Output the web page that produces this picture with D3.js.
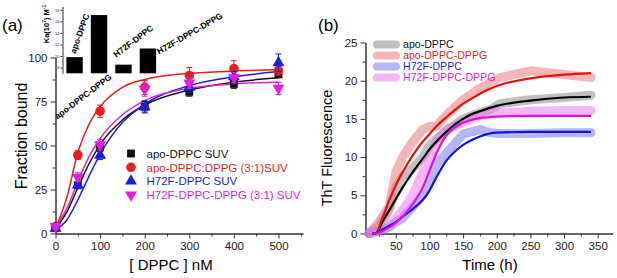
<!DOCTYPE html>
<html>
<head>
<meta charset="utf-8">
<script src="https://cdn.jsdelivr.net/npm/d3@7"></script>
<style>
  body { margin: 0; background: #fff; }
  svg { display: block; font-family: "Liberation Sans", Arial, sans-serif; }
  .axis path, .axis line { stroke: #333; }
  .axis text { fill: #222; }
</style>
</head>
<body>
<div id="chart"></div>
<script>
// ---- panel (a): binding data ----
const concA = [0, 50, 100, 200, 300, 400, 500];
const apoDPPC = [3, 27.5, 49, 72, 80.5, 85, 90.5];
const apoDPPCerr = [1.5, 2, 2.5, 3, 2.5, 2.5, 2];
const apoDPPG = [4, 44.5, 69.5, 83, 89.8, 93.7, 92.5];
const apoDPPGerr = [1.5, 2.5, 3.5, 4, 4.5, 4.5, 2.5];
const h72fDPPC = [3, 27.5, 44.5, 72, 83, 89, 97];
const h72fDPPCerr = [1.5, 2, 2.5, 3.5, 3, 3, 5];
const h72fDPPG = [4, 32, 50.5, 82, 85.5, 88.5, 82.5];
const h72fDPPGerr = [1.5, 2.5, 3, 4, 3, 3, 3.5];

const fitConc = [0, 25, 50, 75, 100, 150, 200, 300, 400, 500];
const fitApoDPPC = [3, 12, 26, 39.5, 50.5, 64.5, 73, 81.5, 86, 88.5];
const fitApoDPPG = [3, 20, 46, 62, 72, 83, 87.5, 91, 92.3, 93];
const fitH72fDPPC = [2, 7.5, 19, 32.5, 45, 63, 73.5, 84, 89, 92];
const fitH72fDPPG = [4, 14, 29.5, 43.5, 54, 67.5, 75.5, 82.5, 85, 86];

// inset: association constants
const kaLabels = ["apo-DPPC", "apo-DPPC-DPPG", "H72F-DPPC", "H72F-DPPC-DPPG"];
const kaValues = [9.8, 17.1, 8.5, 11.3];
const kaTicks = [8, 10, 12, 14, 16, 18];

// ---- panel (b): ThT kinetics ----
const bandTime = [10, 25, 40, 50, 60, 75, 90, 100, 110, 125, 150, 175, 190, 205, 250, 300, 340];
const thtApoDPPC = [0, 1, 3, 6, 7.5, 8.5, 10, 11.5, 12.3, 13.5, 15, 15.8, 16.2, 17, 17.5, 17.8, 18.1];
const thtApoDPPG = [0, 1.5, 3.5, 8, 10, 12, 13.6, 14, 14, 15.5, 17.5, 19, 19.8, 20.4, 21.3, 20.8, 20.4];
const thtH72fDPPC = [0, 0.3, 0.8, 1.5, 2, 3.5, 5, 7, 9, 10.5, 13, 13.6, 13.2, 13.1, 13.1, 13.2, 13.2];
const thtH72fDPPG = [0, 0.4, 1, 2, 3, 5, 8, 10, 12, 13.5, 14.6, 15.4, 15.7, 15.8, 16, 16.1, 16.1];

const fitTime = [15, 20, 30, 40, 50, 60, 75, 90, 100, 110, 125, 140, 150, 160, 175, 200, 250, 300, 340];
const thtFitApoDPPC = [0, 0, 1.5, 3, 4.5, 6, 8, 9.8, 11, 12, 13.3, 14.4, 15, 15.5, 16, 16.7, 17.4, 17.8, 17.9];
const thtFitApoDPPG = [0, 0, 2, 4.3, 6.3, 8, 10.2, 12, 13, 14, 15.2, 16.3, 17, 17.5, 18.3, 19.3, 20.3, 20.8, 21];
const thtFitH72fDPPC = [0, 0, 0.5, 1, 1.5, 2.2, 3.2, 4.4, 5.6, 7.3, 9.5, 10.9, 11.6, 12.1, 12.7, 13.2, 13.3, 13.3, 13.3];
const thtFitH72fDPPG = [0, 0, 0.3, 0.8, 1.4, 2.2, 3.8, 6, 8.2, 10.4, 12.8, 14, 14.5, 14.8, 15.1, 15.3, 15.4, 15.4, 15.4];

const W = 617, H = 278;
const colors = { black: "#111", red: "#e61e1e", blue: "#1e1ed6", magenta: "#e020e0" };

const svg = d3.select("#chart").append("svg")
    .attr("width", W).attr("height", H);
svg.append("rect").attr("width", W).attr("height", H).attr("fill", "#fff");

// ================= panel (a) =================
const xA = d3.scaleLinear().domain([0, 555]).range([55.5, 303]);
const yA = d3.scaleLinear().domain([0, 100]).range([233.5, 57.5]);

svg.append("g").attr("class", "axis")
    .attr("transform", `translate(0,${yA(0)})`)
    .call(d3.axisBottom(xA).tickValues(d3.range(0, 501, 100)).tickSize(5).tickSizeOuter(0).tickPadding(3))
    .style("font-size", "11.5px");
svg.append("g").attr("class", "axis")
    .attr("transform", `translate(0,${yA(0)})`)
    .call(d3.axisBottom(xA).tickValues(d3.range(50, 551, 100)).tickSize(3).tickFormat("").tickSizeOuter(0));
svg.append("g").attr("class", "axis")
    .attr("transform", `translate(${xA(0)},0)`)
    .call(d3.axisLeft(yA).tickValues(d3.range(0, 101, 25)).tickSize(5).tickSizeOuter(0).tickPadding(3))
    .style("font-size", "11.5px");
svg.append("g").attr("class", "axis")
    .attr("transform", `translate(${xA(0)},0)`)
    .call(d3.axisLeft(yA).tickValues([12.5, 37.5, 62.5, 87.5]).tickSize(3).tickFormat("").tickSizeOuter(0));

svg.append("text").attr("x", 2).attr("y", 31).attr("font-size", 17).text("(a)");
svg.append("text")
    .attr("transform", `translate(27,${136}) rotate(-90)`)
    .attr("text-anchor", "middle").attr("font-size", 16).text("Fraction bound");
svg.append("text").attr("x", 171).attr("y", 270)
    .attr("text-anchor", "middle").attr("font-size", 15).text("[ DPPC ] nM");

const seriesA = [
    { name: "apo-DPPC SUV", y: apoDPPC, e: apoDPPCerr, fit: fitApoDPPC, color: colors.black, sym: d3.symbolSquare, rot: 0, size: 62 },
    { name: "apo-DPPC:DPPG (3:1)SUV", y: apoDPPG, e: apoDPPGerr, fit: fitApoDPPG, color: colors.red, sym: d3.symbolCircle, rot: 0, size: 72 },
    { name: "H72F-DPPC SUV", y: h72fDPPC, e: h72fDPPCerr, fit: fitH72fDPPC, color: colors.blue, sym: d3.symbolTriangle, rot: 0, size: 62 },
    { name: "H72F-DPPC-DPPG (3:1) SUV", y: h72fDPPG, e: h72fDPPGerr, fit: fitH72fDPPG, color: colors.magenta, sym: d3.symbolTriangle, rot: 180, size: 62 }
];

const lineA = d3.line().curve(d3.curveMonotoneX);
seriesA.forEach(s => {
    svg.append("path")
        .attr("d", lineA(fitConc.map((c, i) => [xA(c), yA(s.fit[i])])))
        .attr("fill", "none").attr("stroke", s.color).attr("stroke-width", 1.5);
});

seriesA.forEach(s => {
    const g = svg.append("g");
    concA.forEach((c, i) => {
        const cx = xA(c), y0 = yA(s.y[i] - s.e[i]), y1 = yA(s.y[i] + s.e[i]);
        g.append("line").attr("x1", cx).attr("x2", cx).attr("y1", y0).attr("y2", y1)
            .attr("stroke", s.color).attr("stroke-width", 1);
        [y0, y1].forEach(yy => g.append("line").attr("x1", cx - 3).attr("x2", cx + 3)
            .attr("y1", yy).attr("y2", yy).attr("stroke", s.color).attr("stroke-width", 1));
        g.append("path")
            .attr("d", d3.symbol(s.sym, s.size)())
            .attr("transform", `translate(${cx},${yA(s.y[i])}) rotate(${s.rot})`)
            .attr("fill", s.color);
    });
});

// legend (a)
seriesA.forEach((s, i) => {
    const ly = 153.5 + i * 13.8;
    svg.append("path")
        .attr("d", d3.symbol(s.sym, s.size)())
        .attr("transform", `translate(131,${ly}) rotate(${s.rot})`)
        .attr("fill", s.color);
    svg.append("text").attr("x", 146.5).attr("y", ly + 4.2)
        .attr("font-size", 11.5).attr("fill", s.color)
        .text(s.name);
});

// inset bar chart
const xK = d3.scaleBand().domain(kaLabels).range([61.5, 161]).paddingInner(0.33).paddingOuter(0.2);
const yK = d3.scaleLinear().domain([7, 18.6]).range([73.3, 6.4]);
svg.append("rect").attr("x", 60).attr("y", 4).attr("width", 105).attr("height", 70).attr("fill", "#fff");
svg.selectAll(".kbar").data(kaValues).enter().append("rect")
    .attr("class", "kbar")
    .attr("x", (d, i) => xK(kaLabels[i]))
    .attr("y", d => yK(d))
    .attr("width", xK.bandwidth())
    .attr("height", d => yK(7) - yK(d))
    .attr("fill", "#000");
svg.append("g").attr("class", "axis")
    .attr("transform", `translate(${xK.range()[0] + 1},0)`)
    .call(d3.axisLeft(yK).tickValues(kaTicks).tickSize(2).tickSizeOuter(0).tickPadding(1))
    .style("font-size", "4px");
svg.append("text")
    .attr("transform", "translate(49,24) rotate(-90)")
    .attr("text-anchor", "middle").attr("font-size", 7.5).attr("font-weight", "bold")
    .html("Ka(10<tspan dy='-3' font-size='5'>7</tspan><tspan dy='3'>) M</tspan><tspan dy='-3' font-size='5'>-1</tspan>");

const kLab = svg.append("g").attr("font-size", 8.5).attr("font-weight", "bold");
const bx = i => xK(kaLabels[i]);
kLab.append("text").attr("transform", `translate(${bx(0) + 9},${yK(kaValues[0]) - 3}) rotate(-70)`).text(kaLabels[0]);
kLab.append("text").attr("text-anchor", "end")
    .attr("transform", `translate(${bx(1) + xK.bandwidth() + 5},${yK(7) + 5}) rotate(-37)`).text(kaLabels[1]);
kLab.append("text").attr("transform", `translate(${bx(2) + 1},${yK(kaValues[2]) - 7}) rotate(-37)`).text(kaLabels[2]);
kLab.append("text").attr("transform", `translate(${bx(3) + xK.bandwidth() + 3},${yK(kaValues[3]) + 6}) rotate(-30)`).text(kaLabels[3]);

// ================= panel (b) =================
const xB = d3.scaleLinear().domain([5, 372]).range([365.5, 612.5]);
const yB = d3.scaleLinear().domain([0, 25]).range([233.5, 42.5]);

svg.append("g").attr("class", "axis")
    .attr("transform", `translate(0,${yB(0)})`)
    .call(d3.axisBottom(xB).tickValues(d3.range(50, 351, 50)).tickSize(5).tickSizeOuter(0).tickPadding(3))
    .style("font-size", "11.5px");
svg.append("g").attr("class", "axis")
    .attr("transform", `translate(0,${yB(0)})`)
    .call(d3.axisBottom(xB).tickValues(d3.range(25, 351, 50)).tickSize(3).tickFormat("").tickSizeOuter(0));
svg.append("g").attr("class", "axis")
    .attr("transform", `translate(${xB(5)},0)`)
    .call(d3.axisLeft(yB).tickValues(d3.range(0, 26, 5)).tickSize(5).tickSizeOuter(0).tickPadding(3))
    .style("font-size", "11.5px");
svg.append("g").attr("class", "axis")
    .attr("transform", `translate(${xB(5)},0)`)
    .call(d3.axisLeft(yB).tickValues(d3.range(2.5, 25, 5)).tickSize(3).tickFormat("").tickSizeOuter(0));

svg.append("text").attr("x", 318).attr("y", 31).attr("font-size", 17).text("(b)");
svg.append("text")
    .attr("transform", `translate(332,148) rotate(-90)`)
    .attr("text-anchor", "middle").attr("font-size", 14.5).text("ThT Fluorescence");
svg.append("text").attr("x", 490).attr("y", 270)
    .attr("text-anchor", "middle").attr("font-size", 15).text("Time (h)");

const seriesB = [
    { name: "apo-DPPC", band: thtApoDPPC, fit: thtFitApoDPPC, bandColor: "#8c8c8c", color: "#000", text: "#111" },
    { name: "apo-DPPC-DPPG", band: thtApoDPPG, fit: thtFitApoDPPG, bandColor: "#f07878", color: "#e80f0f", text: colors.red },
    { name: "H72F-DPPC", band: thtH72fDPPC, fit: thtFitH72fDPPC, bandColor: "#7878f0", color: "#1010d8", text: colors.blue },
    { name: "H72F-DPPC-DPPG", band: thtH72fDPPG, fit: thtFitH72fDPPG, bandColor: "#f078f0", color: "#e010e0", text: colors.magenta }
];

const lineB = d3.line();
seriesB.forEach(s => {
    svg.append("path")
        .attr("d", lineB(bandTime.map((t, i) => [xB(t), yB(s.band[i])])))
        .attr("fill", "none").attr("stroke", s.bandColor).attr("stroke-opacity", 0.55)
        .attr("stroke-width", 9).attr("stroke-linecap", "round").attr("stroke-linejoin", "round");
});
const lineBfit = d3.line().curve(d3.curveMonotoneX);
seriesB.forEach(s => {
    svg.append("path")
        .attr("d", lineBfit(fitTime.map((t, i) => [xB(t), yB(s.fit[i])])))
        .attr("fill", "none").attr("stroke", s.color).attr("stroke-width", 2.2);
});

// legend (b)
seriesB.forEach((s, i) => {
    const ly = 44.5 + i * 11;
    svg.append("line").attr("x1", 377).attr("x2", 396).attr("y1", ly).attr("y2", ly)
        .attr("stroke", s.bandColor).attr("stroke-opacity", 0.55)
        .attr("stroke-width", 8).attr("stroke-linecap", "round");
    svg.append("text").attr("x", 403).attr("y", ly + 3.8)
        .attr("font-size", 10.6).attr("fill", s.text).text(s.name);
});
</script>
</body>
</html>
